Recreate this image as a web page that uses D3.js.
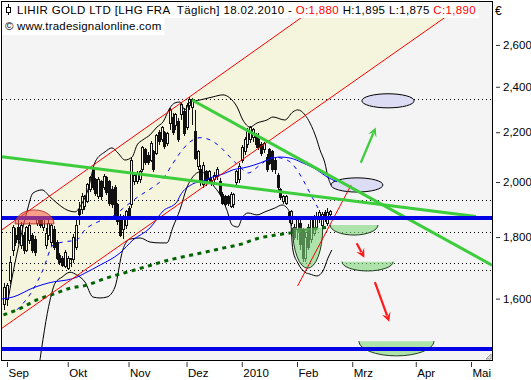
<!DOCTYPE html>
<html>
<head>
<meta charset="utf-8">
<script src="https://cdn.jsdelivr.net/npm/d3@7/dist/d3.min.js"></script>
<style>
    body { margin: 0; background: #fff; }
    svg { display: block; font-family: "Liberation Sans", Arial, sans-serif; }
</style>
</head>
<body>
<svg id="chart" width="531" height="380"></svg>
<script>
// ---- data (prices in EUR, x = trading day index, 0 = 01.09.2009) ----
const stockName = 'LIHIR GOLD LTD';
const stockSymbol = 'LHG FRA';
const period = 'Täglich';
const lastDate = '18.02.2010';
const copyright = '© www.tradesignalonline.com';

const firstDay = -1;
const opens  = [1.581,1.596,1.658,1.756,1.807,1.835,1.770,1.804,1.756,1.787,1.804,1.790,1.846,1.860,1.832,1.770,1.804,1.780,1.825,1.783,1.736,1.729,1.703,1.696,1.726,1.723,1.763,1.896,1.896,1.907,1.925,1.970,2.047,2.008,1.944,2.001,1.978,2.016,2.001,1.970,1.978,1.914,1.871,1.825,1.839,1.903,1.914,2.001,2.001,2.008,2.047,2.127,2.106,2.086,2.119,2.114,2.197,2.168,2.197,2.155,2.239,2.261,2.227,2.244,2.274,2.287,2.218,2.314,2.305,2.202,2.062,2.047,1.989,2.039,2.008,2.004,2.008,2.020,2.001,1.951,1.944,1.944,1.910,1.914,1.997,2.008,2.086,2.119,2.147,2.168,2.177,2.181,2.168,2.147,2.127,2.098,2.127,2.119,2.086,2.027,1.970,1.925,1.921,1.885,1.849,1.835,1.825,1.849,1.825,1.729,1.835,1.790,1.814,1.835,1.860,1.839,1.885,1.849,1.880];
const highs  = [1.648,1.648,1.736,1.842,1.832,1.860,1.853,1.818,1.839,1.853,1.814,1.804,1.867,1.867,1.867,1.832,1.867,1.846,1.839,1.790,1.746,1.736,1.756,1.736,1.729,1.811,1.860,1.925,1.958,1.951,1.997,2.023,2.055,2.016,2.020,2.008,2.031,2.023,2.008,1.985,1.989,1.921,1.882,1.878,1.896,1.910,2.098,2.039,2.043,2.047,2.143,2.135,2.119,2.164,2.127,2.193,2.210,2.227,2.206,2.202,2.305,2.283,2.283,2.261,2.327,2.305,2.327,2.354,2.349,2.296,2.127,2.066,2.078,2.047,2.047,2.016,2.039,2.058,2.016,1.962,1.951,1.951,1.962,1.958,2.047,2.074,2.147,2.181,2.218,2.227,2.218,2.197,2.197,2.160,2.160,2.110,2.135,2.127,2.094,2.035,1.978,1.951,1.951,1.892,1.896,1.846,1.867,1.860,1.832,1.818,1.846,1.871,1.878,1.889,1.896,1.889,1.896,1.903,1.895];
const lows   = [1.566,1.578,1.645,1.736,1.770,1.776,1.759,1.742,1.749,1.776,1.746,1.736,1.839,1.832,1.821,1.759,1.790,1.770,1.756,1.723,1.706,1.700,1.696,1.690,1.700,1.713,1.756,1.842,1.882,1.896,1.921,1.962,1.970,1.947,1.936,1.933,1.970,1.951,1.910,1.903,1.864,1.842,1.800,1.793,1.828,1.860,1.903,1.989,1.993,1.997,2.039,2.066,2.066,2.078,2.039,2.106,2.147,2.160,2.131,2.143,2.210,2.189,2.210,2.160,2.252,2.185,2.210,2.296,2.231,2.086,2.047,1.985,1.978,1.985,1.997,1.985,1.997,2.008,1.951,1.914,1.907,1.910,1.903,1.903,1.985,1.997,2.074,2.106,2.135,2.155,2.160,2.135,2.127,2.102,2.114,2.039,2.066,2.039,2.031,1.970,1.933,1.918,1.914,1.849,1.839,1.790,1.790,1.756,1.716,1.716,1.756,1.780,1.804,1.825,1.849,1.832,1.853,1.839,1.875];
const closes = [1.633,1.642,1.716,1.832,1.783,1.790,1.839,1.753,1.832,1.839,1.756,1.746,1.860,1.842,1.860,1.814,1.849,1.839,1.766,1.729,1.713,1.706,1.746,1.729,1.729,1.800,1.842,1.878,1.947,1.947,1.989,2.016,1.981,1.958,2.008,1.944,2.023,1.962,1.921,1.914,1.871,1.853,1.807,1.867,1.889,1.867,2.086,2.027,2.031,2.039,2.135,2.078,2.078,2.155,2.047,2.185,2.160,2.218,2.139,2.193,2.296,2.197,2.274,2.168,2.322,2.193,2.314,2.340,2.340,2.094,2.119,1.997,2.066,2.001,2.039,1.993,2.027,2.047,1.958,1.921,1.914,1.921,1.951,1.951,2.039,2.062,2.135,2.168,2.202,2.218,2.210,2.147,2.135,2.114,2.151,2.047,2.074,2.047,2.047,1.978,1.940,1.944,1.944,1.860,1.889,1.800,1.860,1.773,1.729,1.800,1.766,1.860,1.860,1.874,1.885,1.878,1.860,1.885,1.890];

// indicator lines [day, price]
const bandUpper = [[0.4,1.596],[1.8,1.664],[4.7,1.790],[7.2,1.889],[9.4,1.958],[12.7,1.970],[15.6,1.944],[18.1,1.921],[21.7,1.896],[24.6,1.889],[27.2,1.921],[29.3,1.970],[31.9,2.078],[35.5,2.119],[38,2.135],[40.2,2.114],[42.7,2.086],[45.3,2.098],[47.1,2.147],[49.2,2.168],[51.8,2.189],[54.3,2.222],[56.5,2.244],[59,2.305],[60.8,2.327],[62.6,2.331],[64.4,2.296],[66.3,2.331],[69.9,2.340],[74.6,2.354],[78.2,2.363],[80.7,2.349],[83.3,2.309],[85.4,2.252],[88,2.222],[90.5,2.239],[94.1,2.252],[96.3,2.265],[100.6,2.252],[103.5,2.287],[105.3,2.296],[107.9,2.274],[109.7,2.239],[112.2,2.168],[113.3,2.127],[115.1,2.074],[116.2,2.020],[117.3,1.989]];
const bandLower = [[11.5,1.400],[15.6,1.596],[17.4,1.648],[19.9,1.667],[22.8,1.683],[25.3,1.674],[28.2,1.652],[31.1,1.605],[33.7,1.602],[36.2,1.605],[39.1,1.636],[41.9,1.756],[44.5,1.793],[48.2,1.797],[51.8,1.783],[55.4,1.780],[57.9,1.780],[60.1,1.835],[62.6,1.896],[65.2,1.981],[67.3,2.020],[69.9,2.039],[72.4,2.027],[74.6,1.989],[77.2,1.951],[79.6,1.896],[81.5,1.842],[83.6,1.835],[85.1,1.867],[87.3,1.885],[90.5,1.878],[93.4,1.889],[97,1.903],[99.6,1.914],[101.4,1.903],[102.5,1.878],[103.5,1.756],[105.3,1.713],[107.9,1.683],[109.7,1.677],[112.2,1.671],[114.4,1.687],[116.2,1.729],[117.6,1.756]];
const avgSolid = [[-1.8,1.599],[2.2,1.605],[9.4,1.633],[16.7,1.652],[21.7,1.658],[25.3,1.667],[28.2,1.680],[33.7,1.706],[40.9,1.746],[45.6,1.790],[51.8,1.832],[56.5,1.892],[61.5,1.925],[62.6,1.947],[67.3,1.993],[71,2.004],[74.6,2.020],[78.2,2.031],[81.8,2.047],[86.9,2.058],[91.6,2.074],[95.2,2.090],[98.8,2.098],[102.5,2.094],[107.2,2.074],[112.2,2.047],[115.8,2.020],[119.5,2.001]];
const avgDashed = [[3.6,1.566],[9.4,1.627],[13,1.690],[16.7,1.773],[20.3,1.783],[25.3,1.790],[28.2,1.825],[32.9,1.853],[38,1.871],[42.7,1.907],[47.4,1.944],[52.5,1.978],[56.1,2.008],[59.7,2.066],[62.6,2.114],[66.3,2.160],[69.9,2.177],[73.5,2.168],[77.2,2.139],[80.7,2.098],[84.4,2.058],[87.3,2.035],[91.6,2.066],[96.3,2.098],[101.4,2.086],[105,2.047],[107.2,2.008],[109.7,1.958],[112.6,1.903]];
const avgLong = [[-1.3,1.551],[4.7,1.570],[10.8,1.596],[16.8,1.614],[22.8,1.632],[28.9,1.642],[34.9,1.661],[40.9,1.677],[47,1.692],[53,1.708],[59.6,1.725],[65.6,1.737],[72.3,1.750],[78.9,1.764],[84.4,1.775],[91,1.796],[97.3,1.807],[103.7,1.816],[109.7,1.827],[116.1,1.834]];

// drawing tools [day, price]
const channelUpper = [[-2, 1.824], [116, 2.838]];
const channelLower = [[-2, 1.511], [170, 2.859]];
const supportLine  = [[105.2, 1.639], [124.6, 1.989]];
const trendLong    = [[-1.8, 2.099], [169.8, 1.872]];
const trendShort   = [[67, 2.340], [175.6, 1.706]];
const blueLevels   = [1.867, 1.453];
const dottedLevels = [2.343, 1.932, 1.816, 1.713, 1.689];
// [day0, day1, priceTop, priceBottom]
const targetEllipses = [[128.5, 147.4, 2.368, 2.305], [117.3, 136.1, 2.016, 1.962]];
const bowls = [[103.4, 114.3, 1.832, 1.696], [117, 134.3, 1.842, 1.807], [121.3, 139.8, 1.717, 1.687], [127.4, 154.6, 1.475, 1.434]];
const domes = [[2.9, 17.0, 1.896, 1.846]];
// [dayFrom, priceFrom, dayTo, priceTo]
const upArrows = [[128.1, 2.075, 133.5, 2.220]];
const downArrows = [[126.6, 1.779, 129.4, 1.730], [133.2, 1.651, 138.4, 1.531]];

const tickDays = [0, 22, 44, 65, 85, 105, 125, 148, 168];
const tickLabels = ['Sep', 'Okt', 'Nov', 'Dez', '2010', 'Feb', 'Mrz', 'Apr', 'Mai'];
const priceTicks = [1.6, 1.8, 2.0, 2.2, 2.4, 2.6];

// ---- layout ----
const plot = { left: 2, right: 492, top: 2, bottom: 360 };
const svg = d3.select('#chart');

const x = d3.scaleLinear().domain([-1.81, 175.6]).range([plot.left, plot.right]);
const y = d3.scaleLog().domain([1.4227, 2.8226]).range([plot.bottom, plot.top]);
const fmt = (v) => d3.format('.3f')(v).replace('.', ',');

svg.append('defs').append('clipPath').attr('id', 'plotClip')
    .append('rect')
    .attr('x', plot.left).attr('y', plot.top)
    .attr('width', plot.right - plot.left).attr('height', plot.bottom - plot.top);

svg.append('rect')
    .attr('x', plot.left).attr('y', plot.top)
    .attr('width', plot.right - plot.left).attr('height', plot.bottom - plot.top)
    .attr('fill', '#f4f4f4');

const g = svg.append('g').attr('clip-path', 'url(#plotClip)');

const straight = d3.line().x(d => x(d[0])).y(d => y(d[1]));
const smooth = d3.line().x(d => x(d[0])).y(d => y(d[1])).curve(d3.curveMonotoneX);

// beige channel between the two red lines
g.append('path')
    .attr('d', straight([channelUpper[0], channelUpper[1], channelLower[1], channelLower[0]]) + 'Z')
    .attr('fill', '#f5f4dc');

// dotted price levels
g.selectAll('.level-dot').data(dottedLevels).enter()
    .append('line')
    .attr('x1', plot.left).attr('x2', plot.right)
    .attr('y1', d => Math.round(y(d)) + 0.5).attr('y2', d => Math.round(y(d)) + 0.5)
    .attr('stroke', '#000').attr('stroke-width', 1).attr('stroke-dasharray', '1,3');

// candles
const candles = opens.map((o, k) => ({ day: firstDay + k, o: o, h: highs[k], l: lows[k], c: closes[k] }));
const cg = g.append('g').attr('shape-rendering', 'crispEdges');
cg.selectAll('.wick').data(candles).enter()
    .append('line')
    .attr('x1', d => Math.round(x(d.day)) + 0.5).attr('x2', d => Math.round(x(d.day)) + 0.5)
    .attr('y1', d => y(d.h)).attr('y2', d => y(d.l))
    .attr('stroke', '#111');
cg.selectAll('.body').data(candles).enter()
    .append('rect')
    .attr('x', d => Math.round(x(d.day)) - 0.5)
    .attr('y', d => y(Math.max(d.o, d.c)))
    .attr('width', 2)
    .attr('height', d => Math.max(1, Math.abs(y(d.o) - y(d.c))))
    .attr('fill', d => d.c >= d.o ? '#fffff4' : '#111')
    .attr('stroke', '#111');

// lavender target ellipses (under the trend lines)
g.selectAll('.target').data(targetEllipses).enter()
    .append('ellipse')
    .attr('cx', d => (x(d[0]) + x(d[1])) / 2)
    .attr('cy', d => (y(d[2]) + y(d[3])) / 2)
    .attr('rx', d => (x(d[1]) - x(d[0])) / 2)
    .attr('ry', d => (y(d[3]) - y(d[2])) / 2)
    .attr('fill', '#dcdcf4').attr('stroke', '#000');

// indicators
g.append('path').attr('d', smooth(bandUpper)).attr('fill', 'none').attr('stroke', '#000');
g.append('path').attr('d', smooth(bandLower)).attr('fill', 'none').attr('stroke', '#000');
g.append('path').attr('d', smooth(avgSolid)).attr('fill', 'none').attr('stroke', '#0000ff');
g.append('path').attr('d', smooth(avgDashed)).attr('fill', 'none').attr('stroke', '#0000ff')
    .attr('stroke-dasharray', '4,5');
g.append('path').attr('d', smooth(avgLong)).attr('fill', 'none').attr('stroke', '#006400')
    .attr('stroke-width', 3).attr('stroke-dasharray', '4,4.5');

// green bowls (lower half ellipses)
const bowl = (d) => {
    const x0 = x(d[0]), x1 = x(d[1]), yt = y(d[2]), yb = y(d[3]);
    return `M${x0},${yt} A${(x1 - x0) / 2},${yb - yt} 0 0 0 ${x1},${yt}`;
};
g.selectAll('.bowl').data(bowls).enter()
    .append('path')
    .attr('d', d => bowl(d) + 'Z')
    .attr('fill', '#7ed67a').attr('fill-opacity', 0.6).attr('stroke', 'none');
g.selectAll('.bowl-edge').data(bowls).enter()
    .append('path')
    .attr('d', bowl)
    .attr('fill', 'none').attr('stroke', '#1f3d1f');

// red lines
[channelUpper, channelLower, supportLine].forEach(l => {
    g.append('path').attr('d', straight(l)).attr('stroke', '#ff0000').attr('fill', 'none');
});

// green trend lines
[trendLong, trendShort].forEach(l => {
    g.append('path').attr('d', straight(l)).attr('stroke', '#3ccc3c').attr('stroke-width', 3).attr('fill', 'none');
});

// thick blue levels
g.selectAll('.level-blue').data(blueLevels).enter()
    .append('line')
    .attr('x1', plot.left).attr('x2', plot.right)
    .attr('y1', d => y(d)).attr('y2', d => y(d))
    .attr('stroke', '#0000e6').attr('stroke-width', 4);

// red dome, half transparent over the blue level
g.selectAll('.dome').data(domes).enter()
    .append('path')
    .attr('d', d => {
        const x0 = x(d[0]), x1 = x(d[1]), yt = y(d[2]), yb = y(d[3]);
        return `M${x0},${yb} A${(x1 - x0) / 2},${yb - yt} 0 0 1 ${x1},${yb}Z`;
    })
    .attr('fill', '#ff5a46').attr('fill-opacity', 0.55).attr('stroke', '#a02020').attr('stroke-width', 0.8);

// arrows
const drawArrow = (d, color) => {
    const x0 = x(d[0]), y0 = y(d[1]), x1 = x(d[2]), y1 = y(d[3]);
    const len = Math.hypot(x1 - x0, y1 - y0), ux = (x1 - x0) / len, uy = (y1 - y0) / len;
    const hl = 9, hw = 4.5;
    g.append('line')
        .attr('x1', x0).attr('y1', y0).attr('x2', x1 - ux * hl * 0.7).attr('y2', y1 - uy * hl * 0.7)
        .attr('stroke', color).attr('stroke-width', 2.2);
    g.append('path')
        .attr('d', `M${x1},${y1} L${x1 - ux * hl - uy * hw},${y1 - uy * hl + ux * hw} L${x1 - ux * hl * 0.6},${y1 - uy * hl * 0.6} L${x1 - ux * hl + uy * hw},${y1 - uy * hl - ux * hw}Z`)
        .attr('fill', color);
};
upArrows.forEach(d => drawArrow(d, '#3ccc3c'));
downArrows.forEach(d => drawArrow(d, '#ff1a1a'));

// frame
svg.append('rect')
    .attr('x', plot.left - 0.5).attr('y', plot.top - 0.5)
    .attr('width', plot.right - plot.left + 1).attr('height', plot.bottom - plot.top + 1)
    .attr('fill', 'none').attr('stroke', '#000');

// resize grip
svg.append('path').attr('d', `M${plot.right - 6},${plot.bottom - 1} L${plot.right - 1},${plot.bottom - 6} L${plot.right - 1},${plot.bottom - 1}Z`)
    .attr('fill', '#ddd').attr('stroke', '#888').attr('stroke-width', 0.8);

// price axis on the right
const yAxis = svg.append('g')
    .attr('transform', `translate(${plot.right + 4},0)`)
    .call(d3.axisRight(y).tickValues(priceTicks).tickFormat(fmt).tickSize(4).tickPadding(3));
yAxis.select('.domain').remove();
yAxis.selectAll('text').attr('font-size', 11.5).attr('fill', '#000').attr('font-family', '"Liberation Sans", Arial, sans-serif');
yAxis.selectAll('line').attr('stroke', '#333');

svg.append('text').attr('x', plot.right + 3).attr('y', 15).attr('font-size', 12).text('€');

// time axis
const xAxis = svg.append('g')
    .attr('transform', `translate(0,${plot.bottom + 2})`)
    .call(d3.axisBottom(x).tickValues(tickDays).tickFormat((d, k) => tickLabels[k]).tickSize(5).tickPadding(3));
xAxis.select('.domain').remove();
xAxis.selectAll('line').attr('stroke', '#333');
xAxis.selectAll('text')
    .attr('text-anchor', 'start').attr('dx', 1).attr('dy', '0.6em')
    .attr('font-size', 11.5).attr('fill', '#000').attr('font-family', '"Liberation Sans", Arial, sans-serif');

// header
const last = candles[candles.length - 1];
const header = svg.append('g');
const line1 = header.append('text').attr('x', 17).attr('y', 13.5).attr('font-size', 11.5)
    .attr('letter-spacing', 0.35).attr('xml:space', 'preserve');
line1.append('tspan').text(`${stockName} [${stockSymbol}  ${period}] ${lastDate} - `);
line1.append('tspan').attr('fill', '#ff0000').text(`O:${fmt(last.o)}`);
line1.append('tspan').text(` H:${fmt(last.h)} L:${fmt(last.l)} `);
line1.append('tspan').attr('fill', '#ff0000').text(`C:${fmt(last.c)}`);
const line2 = header.append('text').attr('x', 5).attr('y', 30).attr('font-size', 11.5)
    .attr('letter-spacing', 0.2).text(copyright);

const b1 = line1.node().getBBox(), b2 = line2.node().getBBox();
header.insert('rect', 'text').attr('x', plot.left).attr('y', plot.top).attr('width', b1.x + b1.width + 3 - plot.left).attr('height', 16).attr('fill', '#fff');
header.insert('rect', 'text').attr('x', plot.left).attr('y', plot.top + 16).attr('width', b2.x + b2.width + 3 - plot.left).attr('height', 17).attr('fill', '#fff');

// little candle icon before the title
header.append('line').attr('x1', 8.5).attr('x2', 8.5).attr('y1', 4).attr('y2', 15).attr('stroke', '#000');
header.append('rect').attr('x', 6.5).attr('y', 7.5).attr('width', 4).attr('height', 5).attr('fill', '#fff').attr('stroke', '#000');
</script>
</body>
</html>
